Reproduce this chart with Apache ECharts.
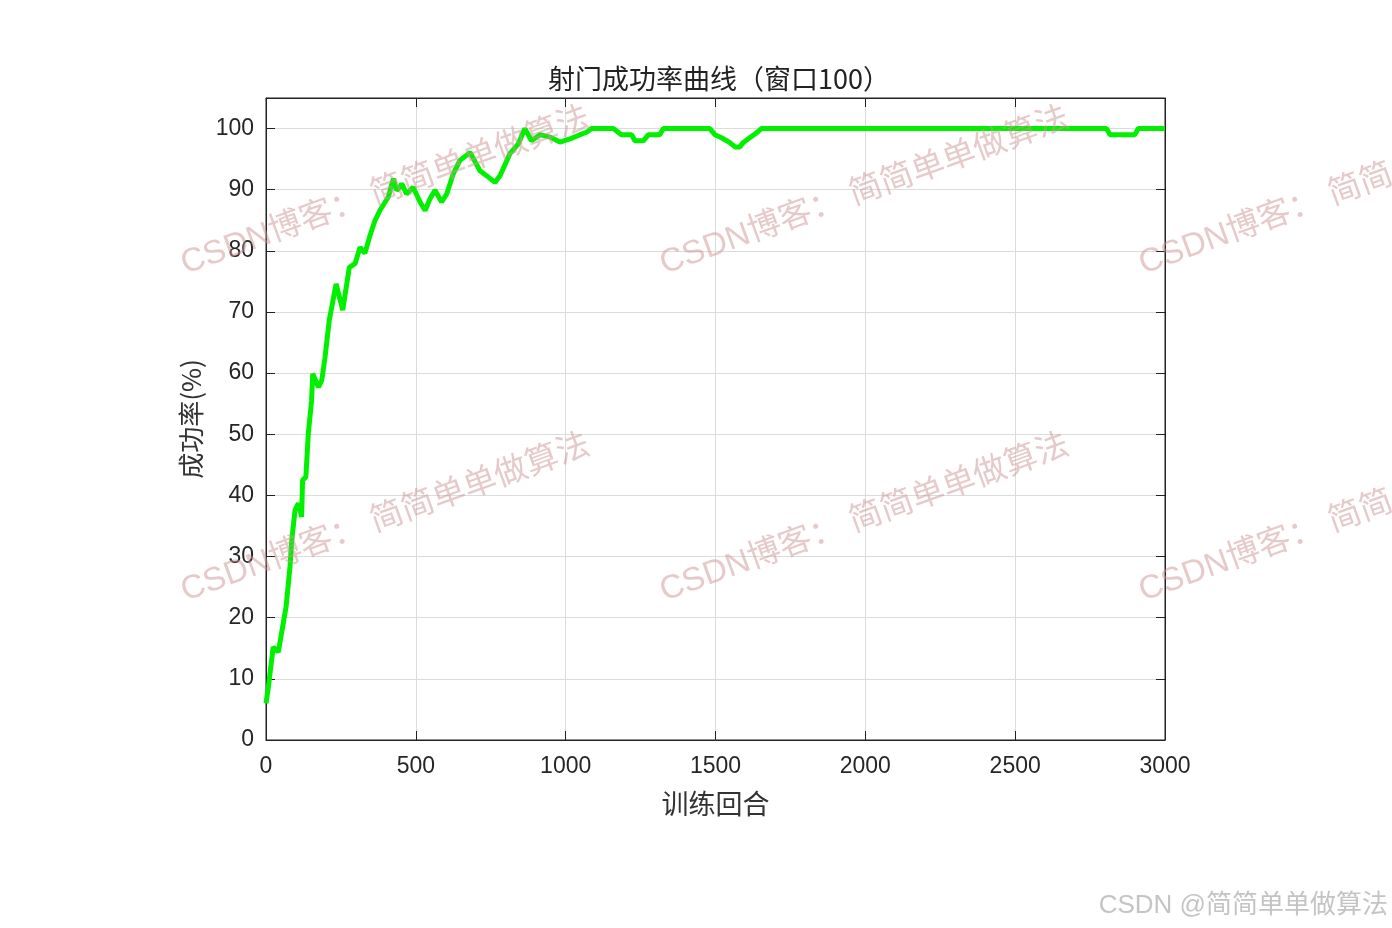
<!DOCTYPE html>
<html><head><meta charset="utf-8">
<script src="https://cdn.jsdelivr.net/npm/echarts@6/dist/echarts.min.js"></script>
<style>html,body{margin:0;padding:0;background:#fff}#c{width:1392px;height:928px}</style>
</head><body><div id="c"></div>
<script>
const episodes = [0,8,24,41,52,67,80,86,97,108,119,122,133,141,152,156,175,186,197,211,234,256,278,297,314,330,347,364,380,408,425,436,447,453,469,491,514,531,547,564,586,603,625,647,681,714,736,764,781,814,842,864,886,914,948,981,1014,1048,1070,1086,1159,1186,1220,1231,1259,1276,1314,1326,1481,1498,1520,1548,1565,1581,1592,1614,1637,1653,2805,2816,2899,2911,3000];
const successRate = [6,8.7,15.2,14.4,17.5,21.8,28.3,32.7,37.6,38.7,36.5,42.5,43,50,55.5,59.9,57.7,58.8,62.6,68.6,74.6,70.3,77.3,77.9,80.6,79.6,82.5,85,86.6,88.8,91.8,89.9,90.4,91,89.3,90.4,88,86.6,88.5,89.9,88,89.3,92.6,94.8,96.1,93.1,92.3,91.2,92.3,95.9,97.5,100,98,99,98.6,97.8,98.3,99,99.4,100,100,99,99,98,98,99,99,100,100,99,98.5,97.7,97,97,97.7,98.5,99.3,100,100,99,99,100,100];
const xTicks = [0,500,1000,1500,2000,2500,3000];
const yTicks = [0,10,20,30,40,50,60,70,80,90,100];
const titleText = '射门成功率曲线（窗口100）';
const xName = '训练回合';
const yName = '成功率(%)';
const watermark = 'CSDN博客： 简简单单做算法';
const footer = 'CSDN @简简单单做算法';

const data = episodes.map((e,i)=>[e, successRate[i]]);
const labelFont = {fontSize:23, color:'#262626', fontFamily:'Liberation Sans, Arial, sans-serif'};
const cjk = 'Noto Sans CJK SC';
const wmPos = [[188,281],[667,281],[1146,281],[188,608],[667,608],[1146,608]];
const graphics = wmPos.map(p=>({type:'text', x:p[0], y:p[1], rotation:20*Math.PI/180, z:100,
  style:{text:watermark, font:'33px "Liberation Sans", "'+cjk+'"', fill:'rgba(205,150,150,0.5)', textAlign:'left', textVerticalAlign:'bottom'}}));
graphics.push({type:'text', x:1388, y:906, z:100, style:{text:footer, font:'26px "Liberation Sans", "'+cjk+'"', fill:'#c4c4c4', textAlign:'right', textVerticalAlign:'middle'}});

const tickStyle = {show:true, inside:true, length:9, lineStyle:{color:'#222', width:1}};
const fmtX = v => xTicks.indexOf(v) >= 0 ? String(v) : '';
const fmtY = v => yTicks.indexOf(v) >= 0 ? String(v) : '';

const chart = echarts.init(document.getElementById('c'));
chart.setOption({
  animation:false,
  backgroundColor:'#fff',
  title:{text:titleText, left:714, top:60, textAlign:'center', textStyle:{fontSize:27, fontWeight:'normal', color:'#222', fontFamily:cjk}},
  grid:{left:266, top:98, width:899, height:642, show:true, borderColor:'#222', borderWidth:1, backgroundColor:'transparent', containLabel:false},
  xAxis:[{type:'value', min:0, max:3000, interval:500, position:'bottom',
    name:xName, nameLocation:'middle', nameGap:50, nameTextStyle:{fontSize:27, color:'#333', fontFamily:cjk},
    axisLine:{show:true, onZero:false, lineStyle:{color:'#222'}}, axisTick:tickStyle,
    axisLabel:Object.assign({margin:15, formatter:fmtX}, labelFont), splitLine:{show:true, lineStyle:{color:'#dcdcdc'}}},
   {type:'value', min:0, max:3000, interval:500, position:'top', axisLine:{show:true, onZero:false, lineStyle:{color:'#222'}},
    axisTick:tickStyle, axisLabel:{show:false}, splitLine:{show:false}}],
  yAxis:[{type:'value', min:0, max:105, interval:10, position:'left',
    name:yName, nameLocation:'middle', nameGap:62, nameRotate:90, nameTextStyle:{fontSize:26, color:'#333', fontFamily:cjk},
    axisLine:{show:true, onZero:false, lineStyle:{color:'#222'}}, axisTick:tickStyle,
    axisLabel:Object.assign({margin:12, formatter:fmtY}, labelFont), splitLine:{show:true, lineStyle:{color:'#dcdcdc'}}},
   {type:'value', min:0, max:105, interval:10, position:'right', axisLine:{show:true, onZero:false, lineStyle:{color:'#222'}},
    axisTick:tickStyle, axisLabel:{show:false}, splitLine:{show:false}}],
  series:[{type:'line', xAxisIndex:0, yAxisIndex:0, data:data, showSymbol:false, symbol:'none',
    lineStyle:{color:'#00f000', width:5}, itemStyle:{color:'#00f000'}, z:5}],
  graphic:graphics
});
</script></body></html>
